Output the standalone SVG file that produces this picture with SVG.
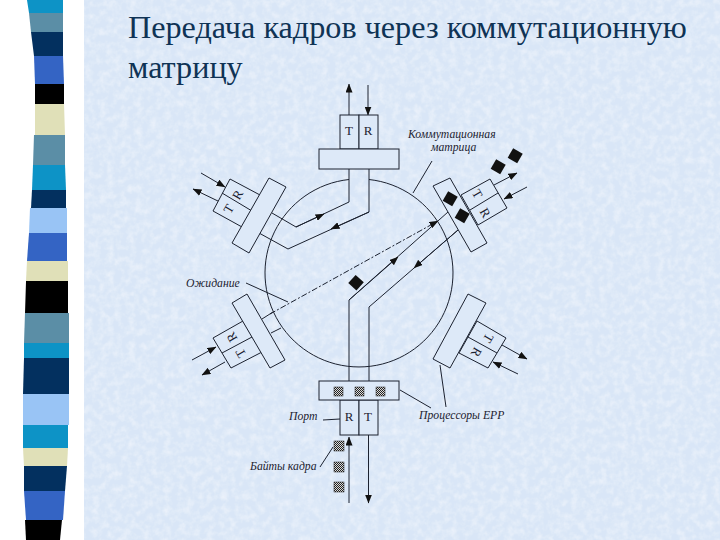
<svg xmlns="http://www.w3.org/2000/svg" width="720" height="540" viewBox="0 0 720 540">
<style>
.l{fill:none;stroke:#1c2230;stroke-width:1}
.b{fill:#dde9f8;stroke:#1c2230;stroke-width:1}
.a{fill:none;stroke:#1c2230;stroke-width:1;marker-end:url(#arr)}
.h{fill:url(#hatch);stroke:#222;stroke-width:.5}
.k{fill:#111}
.t{font-family:"Liberation Serif",serif;font-size:32.200px;fill:#0f3355}
.c{font-family:"Liberation Serif",serif;font-style:italic;font-size:11.700px;fill:#1c2230}
.p{font-family:"Liberation Serif",serif;font-size:13px;fill:#1c2230;text-anchor:middle}
</style>
<defs>
<marker id="arr" markerWidth="9" markerHeight="7" refX="8.500" refY="3.500" orient="auto" markerUnits="userSpaceOnUse"><path d="M0 0L9 3.500L0 7Z" fill="#111"/></marker>
<pattern id="hatch" width="2" height="2" patternUnits="userSpaceOnUse"><rect width="2" height="2" fill="#ddd"/><rect width="1" height="1" fill="#222"/><rect x="1" y="1" width="1" height="1" fill="#222"/></pattern>
<filter id="mot" x="0" y="0" width="100%" height="100%"><feTurbulence type="fractalNoise" baseFrequency=".14" numOctaves="3" seed="4"/><feColorMatrix values="0 0 0 0 1 0 0 0 0 1 0 0 0 0 1 .8 0 0 0 -.3"/><feComposite in2="SourceGraphic" operator="in"/><feMerge><feMergeNode in="SourceGraphic"/><feMergeNode/></feMerge></filter>
</defs>
<rect width="720" height="540" fill="#fff"/>
<rect x="84" width="636" height="540" fill="#d9e6f7" filter="url(#mot)"/>
<g id="strip">
<polygon points="27,0 63,0 63,13 29,13" fill="#0d93c6"/>
<polygon points="29,13 63,13 63,32 31,32" fill="#5b8ea6"/>
<polygon points="31,32 63,32 63,56 34,56" fill="#03305f"/>
<polygon points="34,56 63,56 64,84 35,84" fill="#3464c4"/>
<polygon points="35,84 64,84 64,104 35,104" fill="#000"/>
<polygon points="35,104 64,104 65,135 35,135" fill="#e0e0b8"/>
<polygon points="34,135 65,135 65,165 33,165" fill="#5b8ea6"/>
<polygon points="33,165 65,165 66,190 32,190" fill="#0d93c6"/>
<polygon points="32,190 66,190 66,208 31,208" fill="#03305f"/>
<polygon points="30,208 67,208 67,233 29,233" fill="#99c4f5"/>
<polygon points="29,233 67,233 67,261 27,261" fill="#3464c4"/>
<polygon points="27,261 68,261 68,281 26,281" fill="#e0e0b8"/>
<polygon points="26,281 68,281 68,313 25,313" fill="#000"/>
<polygon points="25,313 69,313 69,343 24,343" fill="#5b8ea6"/>
<polygon points="24,343 69,343 69,358 24,358" fill="#0d93c6"/>
<polygon points="24,358 69,358 69,394 23,394" fill="#03305f"/>
<polygon points="23,394 69,394 69,425 23,425" fill="#99c4f5"/>
<polygon points="23,425 68,425 68,448 23,448" fill="#0d93c6"/>
<polygon points="23,448 68,448 67,466 24,466" fill="#e0e0b8"/>
<polygon points="24,466 67,466 65,491 24,491" fill="#03305f"/>
<polygon points="24,491 65,491 63,520 26,520" fill="#3464c4"/>
<polygon points="25,520 62,520 60,540 26,540" fill="#000"/>
</g>
<text class="t" x="128" y="38">Передача кадров через коммутационную</text>
<text class="t" x="128" y="78">матрицу</text>
<g id="connectors">
<path class="l" d="M349 179.500A94 94 0 1 0 369 179.500"/>
<path class="l" d="M349 169V202L296 227L272 213"/>
<path class="l" d="M369 169V212L288 249L259 233"/>
<path class="a" d="M296 227L324 214"/>
<path class="a" d="M369 212L331 229"/>
<path class="l" d="M349 381V300L448 212"/>
<path class="l" d="M369 381V307L458 230"/>
<path class="a" d="M349 300L398 257"/>
<path class="a" d="M458 230L414 268"/>
<path class="l" d="M262 319L273 312M271 333L281 328"/>
<path class="a" d="M270 314L438 221" stroke-dasharray="6 2 2 2"/>
<path class="a" d="M349 115V84"/><path class="a" d="M368 85V115"/>
<path class="a" d="M201 173L225 187"/><path class="a" d="M220 202L193 189"/>
<path class="a" d="M494 185L517 173"/><path class="a" d="M527 187L504 199"/>
<path class="a" d="M192 360L216 347"/><path class="a" d="M225 362L202 375"/>
<path class="a" d="M502 345L527 359"/><path class="a" d="M518 374L493 362"/>
<path class="a" d="M349 503V437"/><path class="a" d="M368.500 435V503"/>
<path class="l" d="M432 161L413 193M246 283L288 302M323 420L340 419M320 467L333 447M400 390L431 408M440 365L446 407"/>
</g>
<g id="port-top">
<rect class="b" x="340" y="115" width="19" height="34"/><rect class="b" x="359" y="115" width="19" height="34"/>
<rect class="b" x="319" y="149" width="80" height="20"/>
<text class="p" x="349" y="135">T</text><text class="p" x="368" y="135">R</text>
</g>
<g id="port-upper-left">
<polygon class="b" points="230,179 260,195 242,227 213,211"/><path class="l" d="M222 193L252 211"/>
<polygon class="b" points="269,178 286,187 249,253 232,243"/>
<text class="p" transform="translate(238 195) rotate(-60)" y="4">R</text>
<text class="p" transform="translate(229 209) rotate(-60)" y="4">T</text>
</g>
<g id="port-upper-right">
<polygon class="b" points="461,195 490,179 507,208 478,225"/><path class="l" d="M470 210L498 193"/>
<polygon class="b" points="433,186 450,178 487,243 471,252"/>
<text class="p" transform="translate(477 194) rotate(60)" y="4">T</text>
<text class="p" transform="translate(485 213) rotate(60)" y="4">R</text>
<rect class="k" x="445" y="193" width="11" height="11" transform="rotate(30 450 198)"/>
<rect class="k" x="457" y="210" width="11" height="11" transform="rotate(30 462 215)"/>
<rect class="k" x="493" y="161" width="11" height="11" transform="rotate(30 498 166)"/>
<rect class="k" x="510" y="150" width="11" height="11" transform="rotate(30 515 155)"/>
</g>
<g id="port-lower-left">
<polygon class="b" points="213,338 243,321 262,352 231,368"/><path class="l" d="M222 353L252 337"/>
<polygon class="b" points="232,303 247,294 285,360 270,368"/>
<text class="p" transform="translate(232 337) rotate(-120)" y="4">R</text>
<text class="p" transform="translate(241 353) rotate(-120)" y="4">T</text>
</g>
<g id="port-lower-right">
<polygon class="b" points="477,321 506,338 488,368 459,353"/><path class="l" d="M468 337L497 353"/>
<polygon class="b" points="468,294 486,303 450,368 433,359"/>
<text class="p" transform="translate(488 338) rotate(120)" y="4">T</text>
<text class="p" transform="translate(476 352) rotate(120)" y="4">R</text>
</g>
<g id="port-bottom">
<rect class="b" x="340" y="400" width="19" height="35"/><rect class="b" x="359" y="400" width="19" height="35"/>
<rect class="b" x="319" y="381" width="80" height="19"/>
<text class="p" x="349" y="421">R</text><text class="p" x="368" y="421">T</text>
<rect class="h" x="334" y="387" width="9" height="9"/><rect class="h" x="355" y="387" width="9" height="9"/><rect class="h" x="376" y="387" width="9" height="9"/>
<rect class="h" x="334" y="441" width="10" height="10"/><rect class="h" x="334" y="462" width="10" height="10"/><rect class="h" x="334" y="482" width="10" height="10"/>
</g>
<g id="packet"><rect class="k" x="351" y="277" width="11" height="11" transform="rotate(42 356 282)"/></g>
<g id="labels">
<text class="c" x="408" y="138">Коммутационная</text>
<text class="c" x="431" y="151">матрица</text>
<text class="c" x="186" y="287">Ожидание</text>
<text class="c" x="289" y="420">Порт</text>
<text class="c" x="250" y="470">Байты кадра</text>
<text class="c" x="419" y="419">Процессоры EPP</text>
</g>
</svg>
